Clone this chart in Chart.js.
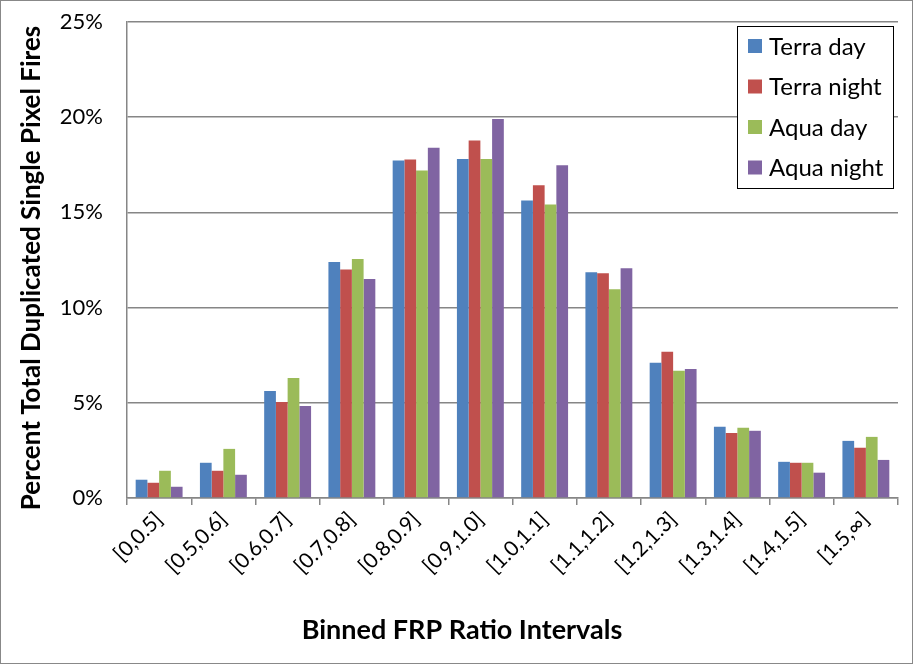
<!DOCTYPE html>
<html>
<head>
<meta charset="utf-8">
<script src="https://cdn.jsdelivr.net/npm/chart.js@4.4.1/dist/chart.umd.min.js"></script>
<style>
  html, body { margin: 0; padding: 0; background: #fff; }
  #wrap { width: 913px; height: 664px; position: relative; }
</style>
</head>
<body>
<div id="wrap"><canvas id="frpChart" width="913" height="664"></canvas></div>
<script>
// Binned FRP ratio intervals
const categories = ['[0,0.5]', '[0.5,0.6]', '[0.6,0.7]', '[0.7,0.8]', '[0.8,0.9]', '[0.9,1.0]',
  '[1.0,1.1]', '[1.1,1.2]', '[1.2,1.3]', '[1.3,1.4]', '[1.4,1.5]', '[1.5,\u221E]'];

// Percent of total duplicated single pixel fires
const terraDay   = [0.96, 1.85, 5.62, 12.4, 17.73, 17.8, 15.63, 11.86, 7.1, 3.74, 1.90, 3.0];
const terraNight = [0.80, 1.43, 5.04, 12.0, 17.78, 18.78, 16.42, 11.81, 7.68, 3.42, 1.85, 2.64];
const aquaDay    = [1.43, 2.58, 6.3, 12.55, 17.2, 17.8, 15.42, 10.97, 6.68, 3.69, 1.85, 3.21];
const aquaNight  = [0.59, 1.22, 4.83, 11.5, 18.4, 19.9, 17.47, 12.07, 6.78, 3.53, 1.33, 2.0];

const yTicks = [0, 5, 10, 15, 20, 25];

const FONT = 'Lato, "Open Sans", sans-serif';

/**
 * Background, outer border, axis titles and boxed legend
 */
const decorPlugin = {
  id: 'decor',
  beforeDraw(chart) {
    const c = chart.ctx;
    c.save();
    c.fillStyle = '#fff';
    c.fillRect(0, 0, chart.width, chart.height);
    c.restore();
  },
  afterDraw(chart) {
    const c = chart.ctx;
    c.save();
    // outer border
    c.strokeStyle = '#888';
    c.lineWidth = 1;
    c.strokeRect(0.5, 0.5, chart.width - 1, chart.height - 1);

    // y title
    c.fillStyle = '#000';
    c.font = 'bold 26px ' + FONT;
    c.textAlign = 'center';
    c.textBaseline = 'middle';
    c.translate(32, 268);
    c.rotate(-Math.PI / 2);
    c.fillText('Percent Total Duplicated Single Pixel Fires', 0, 0);
    c.setTransform(1, 0, 0, 1, 0, 0);

    // x title
    c.font = 'bold 27px ' + FONT;
    c.fillText('Binned FRP Ratio Intervals', 462, 630);

    // legend box
    const lx = 737, ly = 26, lw = 156, lh = 162;
    c.fillStyle = '#fff';
    c.fillRect(lx, ly, lw, lh);
    c.strokeStyle = '#000';
    c.strokeRect(lx + 0.5, ly + 0.5, lw, lh);
    c.font = '24px ' + FONT;
    c.textAlign = 'left';
    chart.data.datasets.forEach((ds, i) => {
      const cy = ly + 20 + i * 40.5;
      c.fillStyle = ds.backgroundColor;
      c.fillRect(lx + 11, cy - 7, 14, 14);
      c.fillStyle = '#000';
      c.fillText(ds.label, lx + 32, cy + 1);
    });
    c.restore();
  },
};

new Chart(document.getElementById('frpChart'), {
  type: 'bar',
  data: {
    labels: categories,
    datasets: [
      { label: 'Terra day', data: terraDay, backgroundColor: '#4F81BD' },
      { label: 'Terra night', data: terraNight, backgroundColor: '#C0504D' },
      { label: 'Aqua day', data: aquaDay, backgroundColor: '#9BBB59' },
      { label: 'Aqua night', data: aquaNight, backgroundColor: '#8064A2' },
    ],
  },
  options: {
    responsive: false,
    animation: false,
    datasets: { bar: { categoryPercentage: 0.73, barPercentage: 1.0 } },
    layout: { padding: { top: 22, right: 15, left: 0, bottom: 0 } },
    plugins: {
      legend: { display: false },
      tooltip: { enabled: false },
    },
    scales: {
      x: {
        grid: {
          offset: true,
          drawOnChartArea: false,
          drawTicks: true,
          tickLength: 7,
          color: '#868686',
          lineWidth: 1.5,
        },
        border: { color: '#868686', width: 1.5 },
        ticks: {
          minRotation: 45,
          maxRotation: 45,
          autoSkip: false,
          padding: 2,
          color: '#000',
          font: { family: FONT, size: 21 },
        },
        afterFit(scale) {
          scale.height = 166;
        },
      },
      y: {
        min: 0,
        max: 25,
        afterBuildTicks(scale) {
          scale.ticks = yTicks.map((v) => ({ value: v }));
        },
        grid: {
          drawTicks: false,
          color: '#868686',
          lineWidth: 1.5,
        },
        border: { color: '#868686', width: 1.5 },
        ticks: {
          padding: 24,
          color: '#000',
          font: { family: FONT, size: 22 },
          callback: (v) => v + '%',
        },
        afterFit(scale) {
          // tick padding would otherwise push the plot area down
          scale.width = 127;
          scale.paddingTop = 0;
          scale.paddingBottom = 0;
        },
      },
    },
  },
  plugins: [decorPlugin],
});
</script>
</body>
</html>
